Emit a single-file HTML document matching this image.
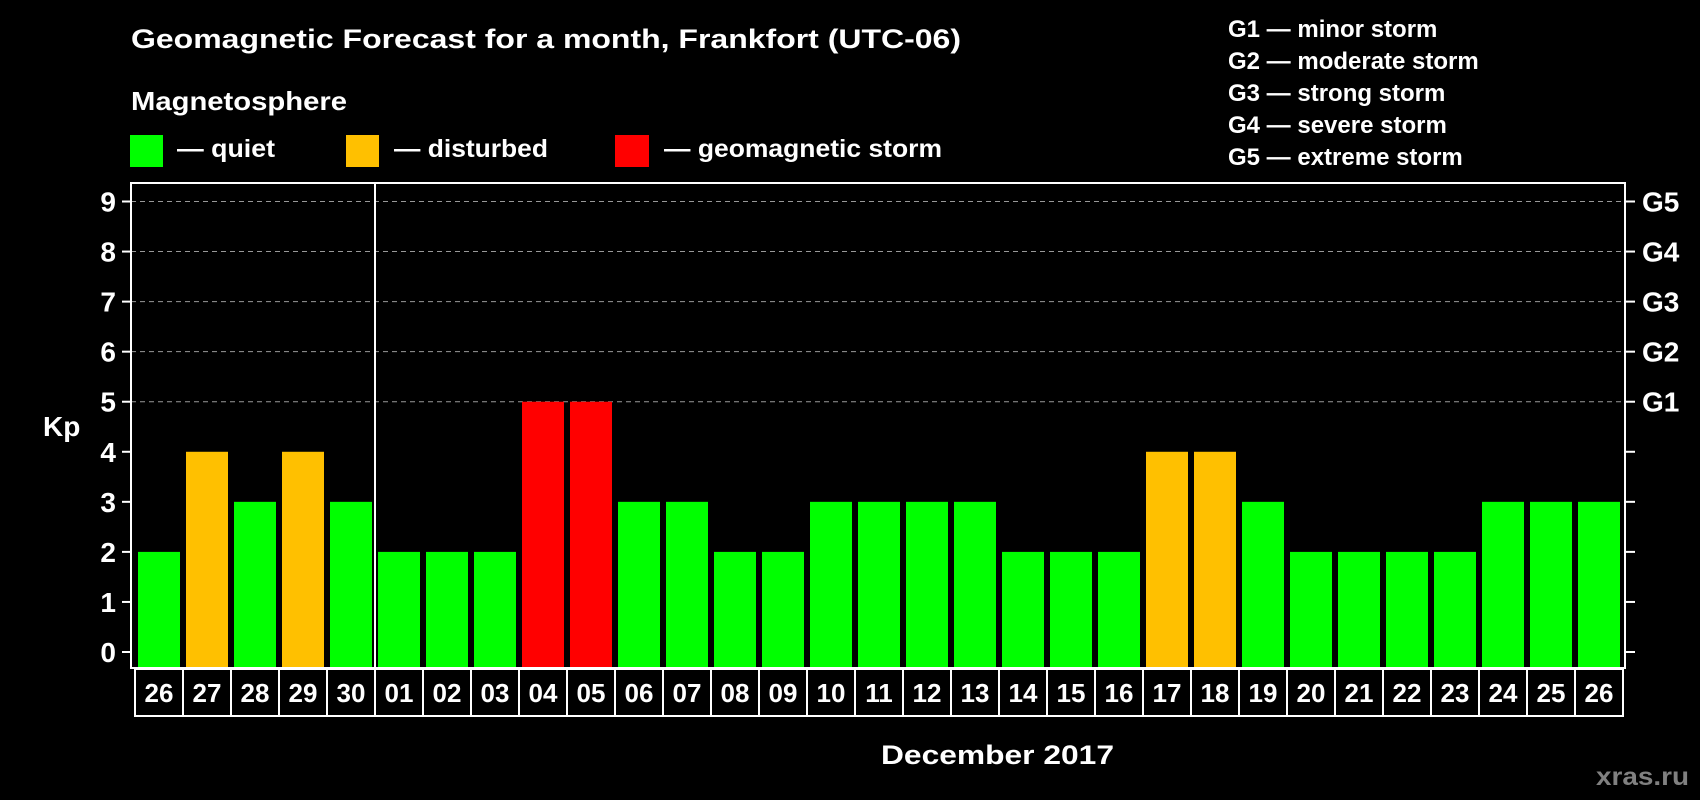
<!DOCTYPE html>
<html><head><meta charset="utf-8"><style>
html,body{margin:0;padding:0;background:#000;width:1700px;height:800px;overflow:hidden}
svg{display:block;font-family:"Liberation Sans",Arial,sans-serif;font-weight:bold}
</style></head><body>
<svg id="chart" width="1700" height="800" viewBox="0 0 1700 800">
<rect width="1700" height="800" fill="#000"/>
<text x="131" y="48" fill="#fff" font-size="27" textLength="830" lengthAdjust="spacingAndGlyphs">Geomagnetic Forecast for a month, Frankfort (UTC-06)</text>
<text x="131" y="110" fill="#fff" font-size="26" textLength="216" lengthAdjust="spacingAndGlyphs">Magnetosphere</text>
<rect x="130" y="135" width="33" height="32" fill="#00ff00"/>
<text x="177" y="157" fill="#fff" font-size="25" textLength="98" lengthAdjust="spacingAndGlyphs">— quiet</text>
<rect x="346" y="135" width="33" height="32" fill="#ffc000"/>
<text x="394" y="157" fill="#fff" font-size="25" textLength="154" lengthAdjust="spacingAndGlyphs">— disturbed</text>
<rect x="615" y="135" width="34" height="32" fill="#ff0000"/>
<text x="664" y="157" fill="#fff" font-size="25" textLength="278" lengthAdjust="spacingAndGlyphs">— geomagnetic storm</text>
<g fill="#fff" font-size="24">
<text x="1228" y="37">G1 — minor storm</text>
<text x="1228" y="69">G2 — moderate storm</text>
<text x="1228" y="101">G3 — strong storm</text>
<text x="1228" y="133">G4 — severe storm</text>
<text x="1228" y="165">G5 — extreme storm</text>
</g>
<text x="43" y="436" fill="#fff" font-size="28">Kp</text>
<text x="881" y="764" fill="#fff" font-size="27" textLength="233" lengthAdjust="spacingAndGlyphs">December 2017</text>
<text x="1596" y="785" fill="#808080" font-size="25" textLength="93" lengthAdjust="spacingAndGlyphs">xras.ru</text>
<g id="grid"></g><g id="bars"></g><g id="axes"></g><g id="dates"></g>
</svg>
<script>
const days = ["26","27","28","29","30","01","02","03","04","05","06","07","08","09","10","11","12","13","14","15","16","17","18","19","20","21","22","23","24","25","26"];
const kp = [2,4,3,4,3,2,2,2,5,5,3,3,2,2,3,3,3,3,2,2,2,4,4,3,2,2,2,2,3,3,3];
const yTicks = [0,1,2,3,4,5,6,7,8,9];
const gLabels = ["","","","","","G1","G2","G3","G4","G5"];
const NS="http://www.w3.org/2000/svg";
const L=131,R=1625,T=183,B=668,y0=652,y9=201.5;
const y=v=>y0+(y9-y0)*v/9;
const x=i=>138+i*48;
function mk(t,a,p){const e=document.createElementNS(NS,t);for(const k in a)e.setAttribute(k,a[k]);p.appendChild(e);return e;}
const grid=document.getElementById('grid'),bars=document.getElementById('bars'),axes=document.getElementById('axes'),dates=document.getElementById('dates');
yTicks.forEach((v,i)=>{
  if(v>=5){const g=mk('line',{x1:L,x2:R,y1:y(v),y2:y(v),stroke:'#999','stroke-width':1,'stroke-dasharray':'5,4'},grid);
  
  }
  const t1=mk('line',{x1:122,x2:L,y1:y(v),y2:y(v),stroke:'#fff','stroke-width':2},axes);
  
  
  const t2=mk('line',{x1:R,x2:1635,y1:y(v),y2:y(v),stroke:'#fff','stroke-width':2},axes);
  
  
  const lb=mk('text',{x:116,y:y(v)+10,fill:'#fff','font-size':28,'text-anchor':'end'},axes);lb.textContent=v;
  
  
  if(gLabels[i]){const g=mk('text',{x:1642,y:y(v)+10,fill:'#fff','font-size':28},axes);g.textContent=gLabels[i];
  
  }
});
kp.forEach((v,i)=>{
  const c=v>=5?'#ff0000':(v>=4?'#ffc000':'#00ff00');
  const r=mk('rect',{x:x(i),y:y(v),width:42,height:B-1-y(v),fill:c},bars);
  
  
});
const fr=mk('rect',{x:L,y:T,width:R-L,height:B-T,fill:'none',stroke:'#fff','stroke-width':2},axes);


const sep=mk('line',{x1:375,x2:375,y1:T,y2:B,stroke:'#fff','stroke-width':2},axes);


days.forEach((d,i)=>{
  const bx=135+i*48;
  const r=mk('rect',{x:bx,y:669,width:48,height:47,fill:'#000',stroke:'#fff','stroke-width':2},dates);
  
  
  const t=mk('text',{x:bx+24,y:702,fill:'#fff','font-size':26,'text-anchor':'middle'},dates);t.textContent=d;
  
  
});
</script>
</body></html>
